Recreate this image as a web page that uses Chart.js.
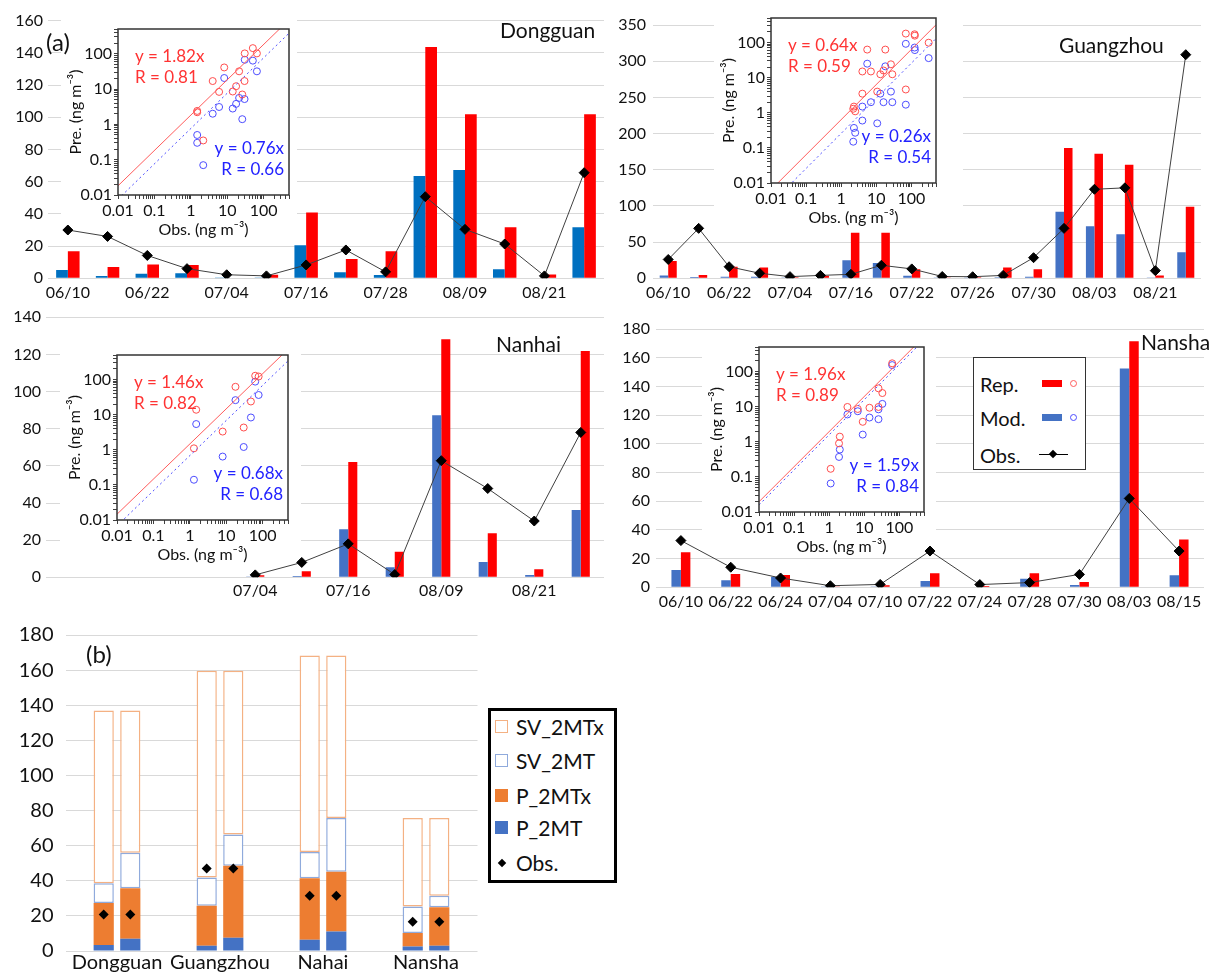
<!DOCTYPE html>
<html>
<head>
<meta charset="utf-8">
<script src="https://cdn.jsdelivr.net/npm/chart.js@4.4.0/dist/chart.umd.min.js"></script>
<style>
  body { margin: 0; background: #fff; }
  #page { position: relative; width: 1212px; height: 975px; overflow: hidden; font-family: Lato, "Open Sans", sans-serif; color: #111; }
  canvas { position: absolute; }
  .lbl { position: absolute; white-space: nowrap; z-index: 5; }
  .box { position: absolute; background: #fff; z-index: 5; box-sizing: border-box; }
  .item { position: absolute; white-space: nowrap; }
</style>
</head>
<body>
<div id="page"></div>
<script>
// ---- panel (a) data ----
const dgLabels = ['06/10', '', '06/22', '', '07/04', '', '07/16', '', '07/28', '', '08/09', '', '08/21', ''];
const dgMod = [5.2, 1.4, 2.8, 3.1, 0.07, 0.5, 20.5, 3.8, 2.0, 63.6, 67.3, 5.6, 0.3, 31.7];
const dgRep = [16.8, 7.0, 8.5, 8.3, 0.35, 2.2, 40.8, 12.0, 16.8, 143.7, 101.9, 31.7, 2.4, 101.9];
const dgObs = [30.0, 26.0, 14.2, 6.0, 2.2, 1.5, 8.3, 17.6, 4.0, 50.7, 30.4, 21.3, 1.5, 65.6];

const gzLabels = ['06/10', '', '06/22', '', '07/04', '', '07/16', '', '07/22', '', '07/26', '', '07/30', '', '08/03', '', '08/21', ''];
const gzMod = [4, 1.7, 2, 2, 0.37, 0.6, 25, 21, 3.5, 0.27, 0.15, 1.5, 2, 92, 72, 61, 0.5, 36];
const gzRep = [24, 4.6, 16, 15, 1.5, 3.5, 63, 63, 12.5, 1.1, 1.3, 15, 12.5, 180, 172, 157, 4, 99];
const gzObs = [26, 69, 16, 7, 2.3, 4, 5.5, 18, 13, 2.5, 2.2, 4, 28.5, 69, 123, 125, 10.6, 309];

const nhLabels = ['', '', '', '', '07/04', '', '07/16', '', '08/09', '', '08/21', ''];
const nhMod = [null, null, null, null, 0.14, 0.64, 25.9, 5.4, 87.3, 8.3, 1.2, 36.3];
const nhRep = [null, null, null, null, 1.1, 3.3, 62.1, 13.8, 128.2, 23.7, 4.3, 121.9];
const nhObs = [null, null, null, null, 1.3, 8, 18, 1.5, 62.8, 47.8, 30.3, 78];

const nsLabels = ['06/10', '06/22', '06/24', '07/04', '07/10', '07/22', '07/24', '07/28', '07/30', '08/03', '08/15'];
const nsMod = [12, 4.9, 7.4, 0.065, 0.6, 4.4, 0.37, 6, 1.6, 152.6, 8.4];
const nsRep = [24.4, 9.3, 8.6, 0.17, 1.4, 9.8, 0.9, 9.8, 3.7, 171.6, 33.3];
const nsObs = [32.6, 14, 6.5, 1.1, 2, 25.3, 1.9, 3.3, 9, 62, 25.3];

// fit slopes and R for the insets: [Rep, Mod]
const dgFit = [1.82, 0.76], dgR = [0.81, 0.66];
const gzFit = [0.64, 0.26], gzR = [0.59, 0.54];
const nhFit = [1.46, 0.68], nhR = [0.82, 0.68];
const nsFit = [1.96, 1.59], nsR = [0.89, 0.84];

// ---- panel (b) data ----
const cities = ['Dongguan', 'Guangzhou', 'Nahai', 'Nansha'];
// left bar of each pair
const p2mtA = [3.4, 3.0, 6.4, 2.5];
const p2mtxA = [23.9, 22.8, 35.1, 7.7];
const sv2mtA = [11.3, 16.0, 14.9, 15.1];
const sv2mtxA = [98.4, 117.8, 111.9, 50.5];
// right bar of each pair
const p2mtB = [7.0, 7.5, 11.1, 3.0];
const p2mtxB = [28.8, 41.1, 34.1, 21.9];
const sv2mtB = [20.2, 17.7, 30.6, 6.6];
const sv2mtxB = [81.0, 93.3, 92.5, 44.3];
const obsB = [20.8, 47, 31.5, 16.6];

const RED = '#FF0000';
const BLUE = '#4472C4';
const BLUE_DG = '#0070C0';
const ORANGE = '#ED7D31';
const GRID = '#D9D9D9';

Chart.defaults.font.family = 'Lato, "Open Sans", sans-serif';
Chart.defaults.font.size = 16;
Chart.defaults.color = '#111';
Chart.defaults.animation = false;
Chart.defaults.responsive = false;
Chart.defaults.plugins.legend.display = false;
Chart.defaults.plugins.tooltip.enabled = false;

const page = document.getElementById('page');

function makeCanvas(x, y, w, h, z) {
  const c = document.createElement('canvas');
  c.width = Math.round(w);
  c.height = Math.round(h);
  c.style.left = x + 'px';
  c.style.top = y + 'px';
  c.style.zIndex = z;
  page.appendChild(c);
  return c;
}

function addLabel(text, x, cy, size, color) {
  const d = document.createElement('div');
  d.className = 'lbl';
  d.textContent = text;
  d.style.left = x + 'px';
  d.style.top = (cy - size * 0.6) + 'px';
  d.style.fontSize = size + 'px';
  d.style.lineHeight = (size * 1.2) + 'px';
  if (color) d.style.color = color;
  page.appendChild(d);
  return d;
}

// bar + line panel
function barPanel(p) {
  const c = makeCanvas(p.x, p.y, p.w, p.h, 1);
  return new Chart(c, {
    type: 'bar',
    data: {
      labels: p.labels,
      datasets: [
        { label: 'Mod.', data: p.mod, backgroundColor: p.blue, categoryPercentage: p.cp, barPercentage: 1, order: 1 },
        { label: 'Rep.', data: p.rep, backgroundColor: RED, categoryPercentage: p.cp, barPercentage: 1, order: 1 },
        { type: 'line', label: 'Obs.', data: p.obs, borderColor: '#404040', borderWidth: 1,
          pointStyle: 'rectRot', pointRadius: 5, pointBackgroundColor: '#000', pointBorderColor: '#000', order: 0 }
      ]
    },
    options: {
      layout: { padding: { top: p.padTop, right: p.padRight, left: 0, bottom: 0 } },
      scales: {
        x: {
          grid: { display: false, drawTicks: false },
          border: { display: false },
          ticks: { autoSkip: false, maxRotation: 0, padding: p.xPad },
          afterFit: s => { s.height = p.xH; }
        },
        y: {
          min: 0, max: p.max,
          ticks: { stepSize: p.step, padding: p.yPad },
          grid: { color: GRID, drawTicks: false },
          border: { display: false },
          afterFit: s => { s.width = p.yW; }
        }
      }
    }
  });
}

function decadeLabel(v) {
  const e = Math.log10(v);
  if (Math.abs(e - Math.round(e)) > 1e-6 || v > 100) return '';
  return String(Number(v.toPrecision(3)));
}

function logAxis(title) {
  return {
    type: 'logarithmic', min: 0.01, max: 500,
    grid: { drawOnChartArea: false, drawTicks: true, tickLength: 4, color: '#404040' },
    border: { display: false },
    ticks: { autoSkip: false, maxRotation: 0, padding: 2, callback: v => decadeLabel(v) },
    title: { display: true, text: title, font: { size: 16 }, padding: { top: 5, bottom: 4 } },
    afterBuildTicks: s => {
      s.ticks = s.ticks.filter(t => {
        const m = t.value / Math.pow(10, Math.floor(Math.log10(t.value) + 1e-9));
        return Math.abs(m - Math.round(m)) < 1e-6;
      });
    }
  };
}

// log-log inset scatter
function insetPanel(p) {
  const w = p.r - p.l + 57 + p.padR;
  const h = p.b - p.t + 15 + 48;
  const c = makeCanvas(p.l - 57, p.t - 15, w, h, 2);
  const repPts = [], modPts = [];
  p.obs.forEach((o, i) => {
    if (o == null) return;
    repPts.push({ x: o, y: p.rep[i] });
    modPts.push({ x: o, y: p.mod[i] });
  });
  const ends = [0.01, 500];
  const decor = {
    id: 'decor',
    beforeDraw(chart) {
      const ctx = chart.ctx, a = chart.chartArea;
      ctx.save();
      ctx.fillStyle = '#fff';
      ctx.fillRect(0, 0, chart.width, a.bottom + 24);
      ctx.restore();
    },
    afterDraw(chart) {
      const ctx = chart.ctx, a = chart.chartArea;
      ctx.save();
      ctx.strokeStyle = '#333';
      ctx.lineWidth = 1.5;
      ctx.strokeRect(a.left, a.top, a.right - a.left, a.bottom - a.top);
      ctx.font = '17px Lato, "Open Sans", sans-serif';
      ctx.textBaseline = 'middle';
      ctx.fillStyle = '#FF3333';
      ctx.textAlign = 'left';
      ctx.fillText('y = ' + p.fit[0].toFixed(2) + 'x', a.left + 17, a.top + 28);
      ctx.fillText('R = ' + p.R[0].toFixed(2), a.left + 17, a.top + 49);
      ctx.fillStyle = '#2222FF';
      ctx.textAlign = 'right';
      ctx.fillText('y = ' + p.fit[1].toFixed(2) + 'x', a.right - 5, a.bottom - 46);
      ctx.fillText('R = ' + p.R[1].toFixed(2), a.right - 5, a.bottom - 25);
      ctx.restore();
    }
  };
  return new Chart(c, {
    type: 'scatter',
    data: {
      datasets: [
        { type: 'line', data: ends.map(x => ({ x, y: x * p.fit[0] })), borderColor: '#FF5C5C', borderWidth: 1, pointRadius: 0 },
        { type: 'line', data: ends.map(x => ({ x, y: x * p.fit[1] })), borderColor: '#4D4DFF', borderWidth: 1, borderDash: [2, 3], pointRadius: 0 },
        { data: repPts, pointStyle: 'circle', pointRadius: 3.5, borderWidth: 1, borderColor: '#FF4D4D', backgroundColor: 'rgba(0,0,0,0)' },
        { data: modPts, pointStyle: 'circle', pointRadius: 3.5, borderWidth: 1, borderColor: '#4D4DFF', backgroundColor: 'rgba(0,0,0,0)' }
      ]
    },
    options: {
      layout: { padding: { top: 15, right: p.padR, left: 0, bottom: 0 } },
      scales: {
        x: Object.assign(logAxis('Obs. (ng m\u207B\u00B3)'), { afterFit: s => { s.height = 48; } }),
        y: Object.assign(logAxis('Pre. (ng m\u207B\u00B3)'), { afterFit: s => { s.width = 57; } })
      }
    },
    plugins: [decor]
  });
}

// ---- panel (a) ----
barPanel({ x: 0, y: 0, w: 610, h: 310, labels: dgLabels, mod: dgMod, rep: dgRep, obs: dgObs, blue: BLUE_DG,
  cp: 0.59, max: 160, step: 20, yW: 48, padTop: 20.7, padRight: 4, xH: 31.7, yPad: 5, xPad: 5 });
barPanel({ x: 600, y: 0, w: 612, h: 310, labels: gzLabels, mod: gzMod, rep: gzRep, obs: gzObs, blue: BLUE,
  cp: 0.56, max: 350, step: 50, yW: 53, padTop: 25, padRight: 11, xH: 31.7, yPad: 7, xPad: 5 });
barPanel({ x: 0, y: 300, w: 610, h: 320, labels: nhLabels, mod: nhMod, rep: nhRep, obs: nhObs, blue: BLUE,
  cp: 0.39, max: 140, step: 20, yW: 46, padTop: 17.3, padRight: 5, xH: 42.7, yPad: 5, xPad: 4 });
barPanel({ x: 600, y: 300, w: 612, h: 320, labels: nsLabels, mod: nsMod, rep: nsRep, obs: nsObs, blue: BLUE,
  cp: 0.38, max: 180, step: 20, yW: 56, padTop: 29.3, padRight: 8, xH: 32.7, yPad: 6, xPad: 5 });

insetPanel({ l: 118, t: 29, r: 289, b: 195, padR: 8, obs: dgObs, rep: dgRep, mod: dgMod, fit: dgFit, R: dgR });
insetPanel({ l: 771, t: 18, r: 936, b: 183, padR: 27, obs: gzObs, rep: gzRep, mod: gzMod, fit: gzFit, R: gzR });
insetPanel({ l: 117, t: 355, r: 288, b: 520, padR: 13, obs: nhObs, rep: nhRep, mod: nhMod, fit: nhFit, R: nhR });
insetPanel({ l: 759, t: 347, r: 924, b: 512, padR: 12, obs: nsObs, rep: nsRep, mod: nsMod, fit: nsFit, R: nsR });

addLabel('(a)', 46, 42, 24);
addLabel('Dongguan', 500, 30, 21);
addLabel('Guangzhou', 1059, 45, 21);
addLabel('Nanhai', 496, 344, 21);
addLabel('Nansha', 1141, 342, 21);

// legend of panel (a)
(function () {
  const box = document.createElement('div');
  box.className = 'box';
  Object.assign(box.style, { left: '973px', top: '357px', width: '113px', height: '113px', border: '1.5px solid #333' });
  const rows = [
    { text: 'Rep.', cy: 26, color: RED, ring: '#FF5C5C' },
    { text: 'Mod.', cy: 60, color: BLUE, ring: '#4D4DFF' },
    { text: 'Obs.', cy: 97 }
  ];
  rows.forEach(r => {
    const t = document.createElement('div');
    t.className = 'item';
    t.textContent = r.text;
    Object.assign(t.style, { left: '6px', top: (r.cy - 12) + 'px', fontSize: '20px', lineHeight: '24px' });
    box.appendChild(t);
    if (r.color) {
      const sw = document.createElement('div');
      sw.className = 'item';
      Object.assign(sw.style, { left: '68px', top: (r.cy - 4) + 'px', width: '20px', height: '7px', background: r.color });
      box.appendChild(sw);
      const ci = document.createElement('div');
      ci.className = 'item';
      Object.assign(ci.style, { left: '96px', top: (r.cy - 4) + 'px', width: '5px', height: '5px', border: '1px solid ' + r.ring, borderRadius: '50%' });
      box.appendChild(ci);
    } else {
      const ln = document.createElement('div');
      ln.className = 'item';
      Object.assign(ln.style, { left: '65px', top: (r.cy - 1) + 'px', width: '29px', height: '1px', background: '#000' });
      box.appendChild(ln);
      const dm = document.createElement('div');
      dm.className = 'item';
      Object.assign(dm.style, { left: '76px', top: (r.cy - 4) + 'px', width: '6px', height: '6px', background: '#000', transform: 'rotate(45deg)' });
      box.appendChild(dm);
    }
  });
  page.appendChild(box);
})();

// ---- panel (b) ----
(function () {
  const c = makeCanvas(0, 610, 485, 365, 1);
  const seg = (data, stack, fill, edge) => ({
    data, stack,
    backgroundColor: fill,
    borderColor: edge || fill,
    borderWidth: edge ? 1.5 : 0,
    borderSkipped: false,
    categoryPercentage: 0.516,
    barPercentage: 0.76
  });
  const obsMarks = {
    id: 'obsMarks',
    afterDatasetsDraw(chart) {
      const ctx = chart.ctx, y = chart.scales.y;
      ctx.save();
      ctx.fillStyle = '#000';
      [0, 4].forEach(k => {
        chart.getDatasetMeta(k).data.forEach((bar, i) => {
          const px = bar.x, py = y.getPixelForValue(obsB[i]);
          ctx.beginPath();
          ctx.moveTo(px, py - 5);
          ctx.lineTo(px + 5, py);
          ctx.lineTo(px, py + 5);
          ctx.lineTo(px - 5, py);
          ctx.closePath();
          ctx.fill();
        });
      });
      ctx.restore();
    }
  };
  new Chart(c, {
    type: 'bar',
    data: {
      labels: cities,
      datasets: [
        seg(p2mtA, 'a', BLUE), seg(p2mtxA, 'a', ORANGE), seg(sv2mtA, 'a', '#fff', '#8FAADC'), seg(sv2mtxA, 'a', '#fff', '#F4B183'),
        seg(p2mtB, 'b', BLUE), seg(p2mtxB, 'b', ORANGE), seg(sv2mtB, 'b', '#fff', '#8FAADC'), seg(sv2mtxB, 'b', '#fff', '#F4B183')
      ]
    },
    options: {
      layout: { padding: { top: 25, right: 7.5, left: 0, bottom: 0 } },
      scales: {
        x: {
          stacked: true,
          grid: { display: false, drawTicks: false },
          border: { display: false },
          ticks: { autoSkip: false, maxRotation: 0, padding: 0, font: { size: 20 } },
          afterFit: s => { s.height = 21.7; }
        },
        y: {
          stacked: true, min: 0, max: 180,
          ticks: { stepSize: 20, padding: 12, font: { size: 20 } },
          grid: { color: GRID, drawTicks: false },
          border: { display: false },
          afterFit: s => { s.width = 65.5; }
        }
      }
    },
    plugins: [obsMarks]
  });
  addLabel('(b)', 86, 654, 24);

  const box = document.createElement('div');
  box.className = 'box';
  Object.assign(box.style, { left: '488px', top: '708px', width: '129px', height: '175px', border: '3px solid #000' });
  const rows = [
    { text: 'SV_2MTx', cy: 16, fill: '#fff', edge: '#F4B183' },
    { text: 'SV_2MT', cy: 50, fill: '#fff', edge: '#8FAADC' },
    { text: 'P_2MTx', cy: 85, fill: ORANGE },
    { text: 'P_2MT', cy: 117, fill: BLUE },
    { text: 'Obs.', cy: 152, diamond: true }
  ];
  rows.forEach(r => {
    const t = document.createElement('div');
    t.className = 'item';
    t.textContent = r.text;
    Object.assign(t.style, { left: '25px', top: (r.cy - 13) + 'px', fontSize: '21px', lineHeight: '26px' });
    box.appendChild(t);
    const sw = document.createElement('div');
    sw.className = 'item';
    if (r.diamond) {
      Object.assign(sw.style, { left: '8px', top: (r.cy - 3) + 'px', width: '6px', height: '6px', background: '#000', transform: 'rotate(45deg)' });
    } else {
      Object.assign(sw.style, { left: '4px', top: (r.cy - 7) + 'px', width: '13px', height: '13px', boxSizing: 'border-box',
        background: r.fill, border: r.edge ? '1.5px solid ' + r.edge : 'none' });
    }
    box.appendChild(sw);
  });
  page.appendChild(box);
})();
</script>
</body>
</html>
